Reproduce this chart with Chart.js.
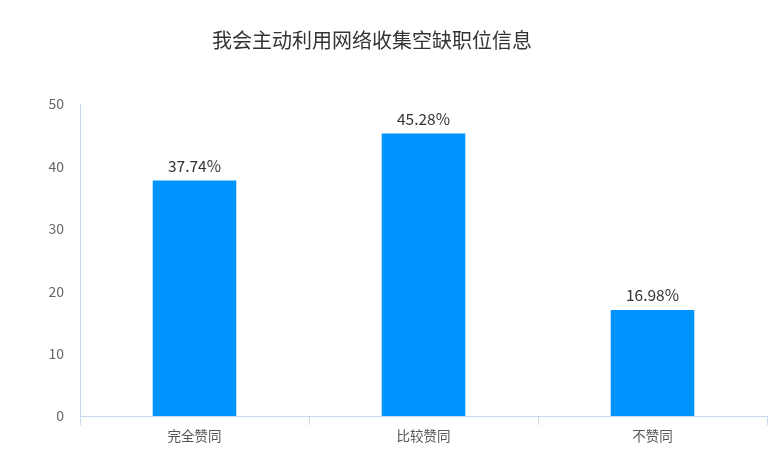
<!DOCTYPE html>
<html><head><meta charset="utf-8">
<script src="https://cdn.jsdelivr.net/npm/chart.js@4/dist/chart.umd.min.js"></script>
<style>html,body{margin:0;padding:0;background:#fff}#c{display:block}</style>
</head><body>
<div style="width:778px;height:470px"><canvas id="c" width="778" height="470"></canvas></div>
<script>
const titleText = '我会主动利用网络收集空缺职位信息';
const categories = ['完全赞同', '比较赞同', '不赞同'];
const values = [37.74, 45.28, 16.98];
const valueLabels = ['37.74%', '45.28%', '16.98%'];
const yTicks = [0, 10, 20, 30, 40, 50];

const fontFamily = '"Microsoft YaHei","Noto Sans CJK SC","Noto Sans",sans-serif';
const axisColor = '#c9d8ea';

const titlePlugin = {
  id: 'customTitle',
  afterDraw(chart) {
    const ctx = chart.ctx;
    ctx.save();
    ctx.font = '20px "Noto Sans CJK SC", sans-serif';
    ctx.fillStyle = '#333';
    ctx.textAlign = 'center';
    ctx.textBaseline = 'middle';
    ctx.fillText(titleText, 372, 40);
    ctx.restore();
  }
};
const labelPlugin = {
  id: 'valueLabels',
  afterDatasetsDraw(chart) {
    const ctx = chart.ctx;
    const meta = chart.getDatasetMeta(0);
    ctx.save();
    ctx.font = '15.5px ' + fontFamily;
    ctx.fillStyle = '#333';
    ctx.textAlign = 'center';
    ctx.textBaseline = 'bottom';
    meta.data.forEach((bar, i) => {
      ctx.fillText(valueLabels[i], bar.x, bar.y - 7);
    });
    ctx.restore();
  }
};

new Chart(document.getElementById('c'), {
  type: 'bar',
  data: {
    labels: categories,
    datasets: [{
      data: values,
      backgroundColor: '#0094ff',
      borderWidth: 0,
      categoryPercentage: 1,
      barPercentage: 0.365
    }]
  },
  options: {
    responsive: false,
    animation: false,
    layout: { padding: { top: 104, right: 11, left: 0, bottom: 0 } },
    plugins: { legend: { display: false }, title: { display: false }, tooltip: { enabled: false } },
    scales: {
      x: {
        grid: { display: true, offset: true, drawOnChartArea: false, color: axisColor, tickLength: 9, lineWidth: 1 },
        border: { display: true, color: axisColor },
        ticks: { color: '#555', font: { size: 13.5, family: fontFamily }, padding: 3 },
        afterFit(s) { s.height = 470 - 416; }
      },
      y: {
        min: 0, max: 50,
        afterBuildTicks(s) { s.ticks = yTicks.map(v => ({ value: v })); },
        grid: { display: false },
        border: { display: true, color: axisColor },
        ticks: { color: '#666', font: { size: 14, family: fontFamily }, padding: 8 },
        afterFit(s) { s.width = 80; }
      }
    }
  },
  plugins: [titlePlugin, labelPlugin]
});
</script>
</body></html>
